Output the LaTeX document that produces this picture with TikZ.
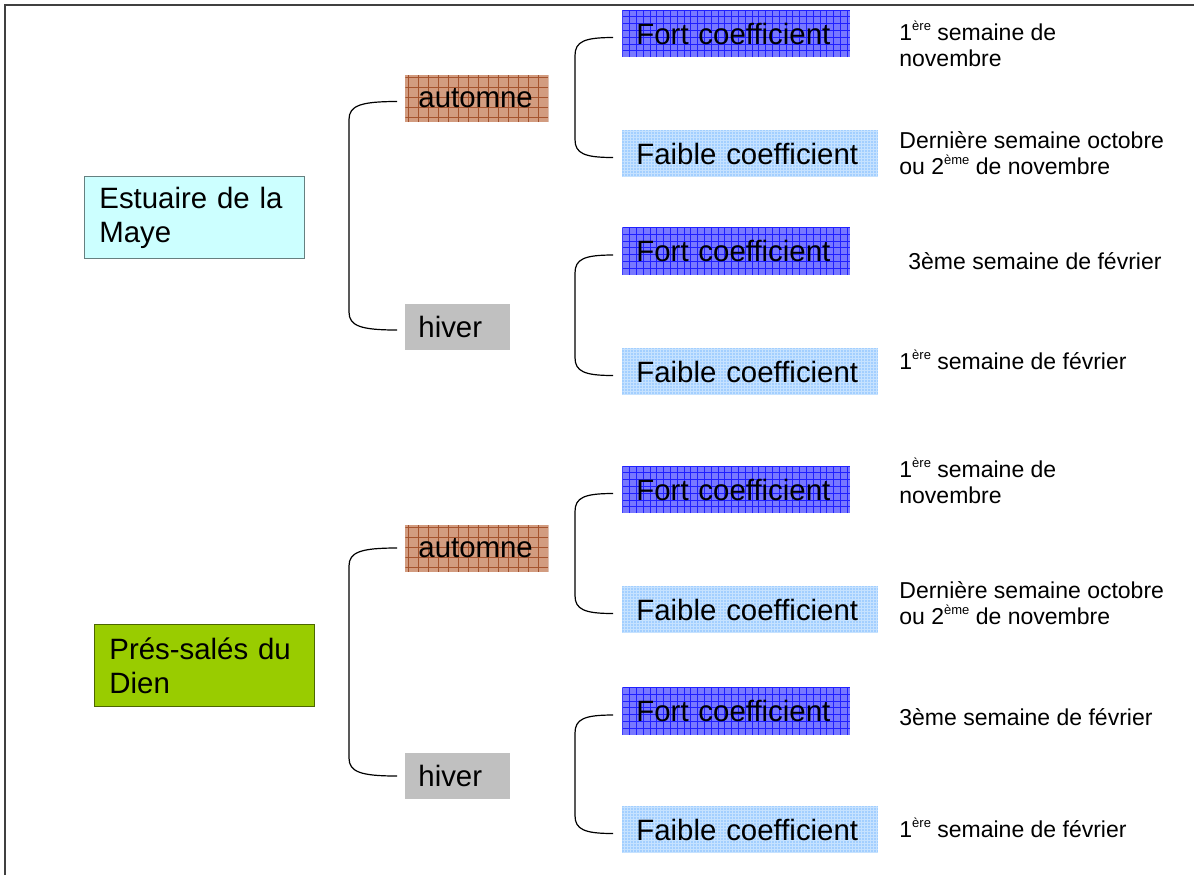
\documentclass[tikz,border=0pt]{standalone}
\usepackage{fontspec}
\setmainfont{Liberation Sans}
\usetikzlibrary{calc}
\definecolor{cSite}{HTML}{CCFFFF}
\definecolor{cPre}{HTML}{99CC00}
\definecolor{cAut}{HTML}{D29C80}
\definecolor{cAutLine}{HTML}{A5532E}
\definecolor{cHiv}{HTML}{C0C0C0}
\definecolor{cFort}{HTML}{7878FF}
\definecolor{cFortLine}{HTML}{2020FF}
\definecolor{cFaib}{HTML}{A3CFFF}
\definecolor{cFaibLine}{HTML}{C6E2FF}
\newcommand{\bigtxt}{\fontsize{14.7}{17}\selectfont}
\newcommand{\smalltxt}{\fontsize{11.5}{13}\selectfont}
\newcommand{\expo}[1]{\raisebox{0.8ex}{\fontsize{6.5}{7}\selectfont #1}}
\tikzset{
  gridfill/.style n args={3}{fill=#1,
    path picture={\draw[#2, line width=0.45pt]
      (path picture bounding box.south west) grid[step=#3]
      (path picture bounding box.north east);}},
  box/.style={rectangle, anchor=west, inner sep=0pt, inner xsep=7pt,
    align=left, font=\bigtxt},
  sitebox/.style={box, anchor=north west, draw=#1!50!black, fill=#1,
    inner xsep=7.5pt, minimum width=110pt, text width=95pt, minimum height=41pt},
  autbox/.style={box, gridfill={cAut}{cAutLine}{5pt}, inner xsep=6.5pt,
    minimum width=71.5pt, text width=58.5pt, minimum height=23.5pt},
  hivbox/.style={box, fill=cHiv, inner xsep=6.5pt,
    minimum width=52.5pt, text width=39.5pt, minimum height=23pt},
  fortbox/.style={box, gridfill={cFort}{cFortLine}{3.4pt},
    minimum width=114pt, text width=100pt, minimum height=23.5pt},
  faibbox/.style={box, gridfill={cFaib}{cFaibLine}{1.5pt},
    minimum width=128pt, text width=114pt, minimum height=23.5pt},
  note/.style={anchor=west, inner sep=0pt, align=left, font=\smalltxt},
  brace/.style={line width=0.6pt, to path={
    .. controls +(-#1*0.75,0) and +(0,-14) .. ++(-#1,18)
    -- ($(\tikztotarget)+(-#1,-18)$)
    .. controls +(0,14) and +(-#1*0.75,0) .. (\tikztotarget)}},
}

\begin{document}
\begin{tikzpicture}[x=0.5pt, y=-0.5pt]
  \useasboundingbox (0,0) rectangle (1194,875);
  \draw[line width=1pt, black!75] (5,875) -- (5,5) -- (1194,5);

  % Estuaire de la Maye
  \node[sitebox=cSite] (est) at (84,176) {Estuaire de la\\Maye};
  \node[autbox] (aut1) at (405,98.5) {automne};
  \node[hivbox] (hiv1) at (405,327) {hiver};
  \node[fortbox] (fort1) at (622,33.5) {Fort coefficient};
  \node[faibbox] (faib1) at (622,153.5) {Faible coefficient};
  \node[fortbox] (fort2) at (622,251) {Fort coefficient};
  \node[faibbox] (faib2) at (622,371.5) {Faible coefficient};

  \node[note] (d1) at (899,44) {1\expo{ère} semaine de\\novembre};
  \node[note] (d2) at (899,153) {Dernière semaine octobre\\ou 2\expo{ème} de novembre};
  \node[note] (d3) at (908,261) {3ème semaine de février};
  \node[note] (d4) at (899,360) {1\expo{ère} semaine de février};

  % Prés-salés du Dien
  \node[sitebox=cPre] (pre) at (94,624) {Prés-salés du\\Dien};
  \node[autbox] (aut2) at (405,548) {automne};
  \node[hivbox] (hiv2) at (405,776) {hiver};
  \node[fortbox] (fort3) at (622,489.5) {Fort coefficient};
  \node[faibbox] (faib3) at (622,609.5) {Faible coefficient};
  \node[fortbox] (fort4) at (622,711) {Fort coefficient};
  \node[faibbox] (faib4) at (622,829.5) {Faible coefficient};

  \node[note] (d5) at (899,481) {1\expo{ère} semaine de\\novembre};
  \node[note] (d6) at (899,603) {Dernière semaine octobre\\ou 2\expo{ème} de novembre};
  \node[note] (d7) at (899,717) {3ème semaine de février};
  \node[note] (d8) at (899,828) {1\expo{ère} semaine de février};

  % Brackets
  \draw[brace=48] ([xshift=-4pt, yshift=-1.5pt]aut1.west) to ([xshift=-4pt, yshift=-1.5pt]hiv1.west);
  \draw[brace=48] ([xshift=-4pt]aut2.west) to ([xshift=-4pt]hiv2.west);
  \draw[brace=38] ([xshift=-4.5pt, yshift=-2pt]fort1.west) to ([xshift=-4.5pt, yshift=-2pt]faib1.west);
  \draw[brace=38] ([xshift=-4.5pt, yshift=-2pt]fort2.west) to ([xshift=-4.5pt, yshift=-2pt]faib2.west);
  \draw[brace=38] ([xshift=-4.5pt, yshift=-2pt]fort3.west) to ([xshift=-4.5pt, yshift=-2pt]faib3.west);
  \draw[brace=38] ([xshift=-4.5pt, yshift=-2pt]fort4.west) to ([xshift=-4.5pt, yshift=-2pt]faib4.west);

\end{tikzpicture}
\end{document}
